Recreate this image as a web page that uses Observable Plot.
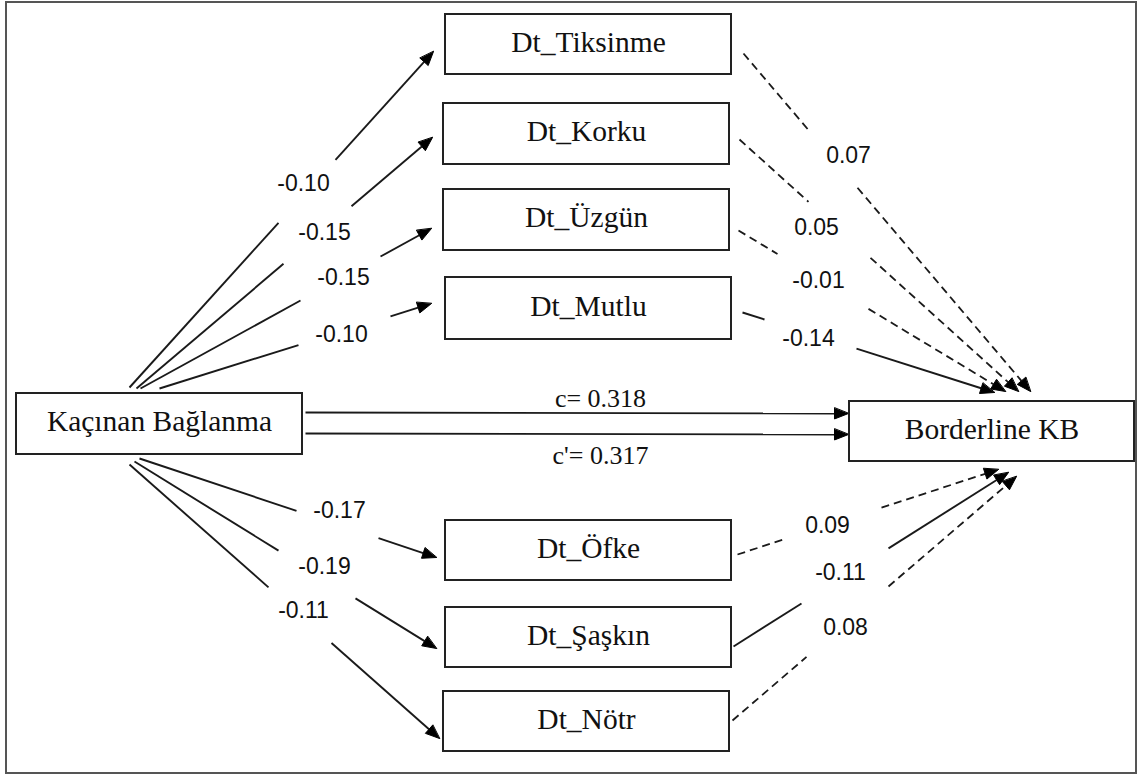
<!DOCTYPE html>
<html>
<head>
<meta charset="utf-8">
<script src="https://cdn.jsdelivr.net/npm/d3@7"></script>
<script src="https://cdn.jsdelivr.net/npm/@observablehq/plot@0.6"></script>
<style>
  html, body { margin: 0; padding: 0; background: #fff; }
  #chart svg { display: block; }
</style>
</head>
<body>
<div id="chart"></div>
<script>
// ---------- DATA ----------
const predictor = "Kaçınan Bağlanma";
const outcome = "Borderline KB";
const mediators = ["Dt_Tiksinme", "Dt_Korku", "Dt_Üzgün", "Dt_Mutlu", "Dt_Öfke", "Dt_Şaşkın", "Dt_Nötr"];
const aPaths = ["-0.10", "-0.15", "-0.15", "-0.10", "-0.17", "-0.19", "-0.11"];   // predictor -> mediator
const bPaths = ["0.07", "0.05", "-0.01", "-0.14", "0.09", "-0.11", "0.08"];       // mediator -> outcome
const bSignificant = [false, false, false, true, false, true, false];             // solid (true) vs dashed
const totalEffectLabel = "c= 0.318";
const directEffectLabel = "c'= 0.317";

// ---------- LAYOUT (pixel frame of the diagram) ----------
const W = 1139, H = 776;
const frame = {x1: 6, y1: 2, x2: 1136, y2: 773};
const boxPos = {
  "Kaçınan Bağlanma": [16, 393, 302, 454],
  "Dt_Tiksinme": [445, 14, 731, 74],
  "Dt_Korku": [443, 103, 729, 164],
  "Dt_Üzgün": [443, 189, 729, 250],
  "Dt_Mutlu": [445, 277, 731, 339],
  "Dt_Öfke": [445, 520, 731, 580],
  "Dt_Şaşkın": [445, 607, 731, 667],
  "Dt_Nötr": [443, 691, 729, 751],
  "Borderline KB": [849, 401, 1134, 461]
};
// [x0, y0, tipX, tipY, gapX0, gapX1, labelX, labelY]
const aLayout = [
  [129, 387, 433, 51, 278, 335, 303, 183],
  [136, 388, 432, 137, 283, 351, 324, 232],
  [140, 388, 431, 228, 300, 380, 343, 277],
  [159, 388, 431, 303, 298, 390, 341, 334],
  [139, 458, 436, 557, 296, 378, 339, 510],
  [134, 461, 436, 648, 278, 355, 324, 566],
  [129, 464, 439, 738, 268, 331, 303, 610]
];
const bLayout = [
  [743, 53, 1030, 391, 809, 857, 848, 155],
  [739, 139, 1018, 391, 808, 870, 816, 227],
  [738, 230, 1005, 391, 777, 868, 818, 280],
  [742, 312, 994, 392, 764, 856, 808, 338],
  [737, 554, 998, 469, 786, 881, 827, 525],
  [733, 646, 1008, 472, 801, 888, 840, 572],
  [732, 720, 1016, 476, 806, 888, 845, 627]
];
const cLayout = [
  [305, 412, 848, 413, 600, 398],
  [305, 433, 848, 434, 600, 455]
];

// ---------- BUILD MARK DATA ----------
const boxes = Object.entries(boxPos).map(([name, [x1, y1, x2, y2]]) => ({name, x1, y1, x2, y2, cx: (x1 + x2) / 2, cy: (y1 + y2) / 2 - 2}));

const segments = [];   // {x1,y1,x2,y2,dashed}
const heads = [];      // triangle vertices {x,y,id}
const numLabels = [];  // {x,y,text}
let hid = 0;
const HEAD_L = 14, HEAD_W = 5.5;

function addArrow(x0, y0, tx, ty, gx0, gx1, dashed) {
  const dx = tx - x0, dy = ty - y0, len = Math.hypot(dx, dy);
  const ux = dx / len, uy = dy / len;
  const yAt = x => y0 + (x - x0) * dy / dx;
  const bx = tx - ux * HEAD_L, by = ty - uy * HEAD_L;
  if (gx0 != null) {
    segments.push({x1: x0, y1: y0, x2: gx0, y2: yAt(gx0), dashed});
    segments.push({x1: gx1, y1: yAt(gx1), x2: bx, y2: by, dashed});
  } else {
    segments.push({x1: x0, y1: y0, x2: bx, y2: by, dashed});
  }
  const nx = -uy, ny = ux;
  const id = hid++;
  heads.push({x: tx, y: ty, id});
  heads.push({x: bx + nx * HEAD_W, y: by + ny * HEAD_W, id});
  heads.push({x: bx - nx * HEAD_W, y: by - ny * HEAD_W, id});
}

mediators.forEach((m, i) => {
  const a = aLayout[i];
  addArrow(a[0], a[1], a[2], a[3], a[4], a[5], false);
  numLabels.push({x: a[6], y: a[7], text: aPaths[i]});
  const b = bLayout[i];
  addArrow(b[0], b[1], b[2], b[3], b[4], b[5], !bSignificant[i]);
  numLabels.push({x: b[6], y: b[7], text: bPaths[i]});
});
const cLabels = [totalEffectLabel, directEffectLabel].map((t, i) => {
  const c = cLayout[i];
  addArrow(c[0], c[1], c[2], c[3], null, null, false);
  return {x: c[4], y: c[5], text: t};
});

const ink = "#1a1a1a";
const serif = "'Liberation Serif', 'Times New Roman', serif";
const sans = "'Liberation Sans', Arial, sans-serif";

const chart = Plot.plot({
  width: W,
  height: H,
  margin: 0,
  x: {domain: [0, W], range: [0, W], axis: null},
  y: {domain: [0, H], range: [0, H], axis: null},
  style: {background: "#fff"},
  marks: [
    Plot.rect([frame], {x1: "x1", x2: "x2", y1: "y1", y2: "y2", fill: "none", stroke: "#555", strokeWidth: 2}),
    Plot.link(segments.filter(d => !d.dashed), {x1: "x1", y1: "y1", x2: "x2", y2: "y2", stroke: ink, strokeWidth: 1.9}),
    Plot.link(segments.filter(d => d.dashed), {x1: "x1", y1: "y1", x2: "x2", y2: "y2", stroke: ink, strokeWidth: 1.8, strokeDasharray: "8,5"}),
    Plot.line(heads, {x: "x", y: "y", z: "id", fill: "#000", stroke: "#000", strokeWidth: 1, curve: "linear-closed"}),
    Plot.rect(boxes, {x1: "x1", x2: "x2", y1: "y1", y2: "y2", fill: "#fff", stroke: "#222", strokeWidth: 2}),
    Plot.text(boxes, {x: "cx", y: "cy", text: "name", fontFamily: serif, fontSize: 29.5, fill: "#111", textAnchor: "middle", lineAnchor: "middle"}),
    Plot.text(cLabels, {x: "x", y: "y", text: "text", fontFamily: serif, fontSize: 26, fill: "#111", textAnchor: "middle", lineAnchor: "middle"}),
    Plot.text(numLabels, {x: "x", y: "y", text: "text", fontFamily: sans, fontSize: 23, fill: "#111", textAnchor: "middle", lineAnchor: "middle"})
  ]
});
document.getElementById("chart").appendChild(chart);
</script>
</body>
</html>
